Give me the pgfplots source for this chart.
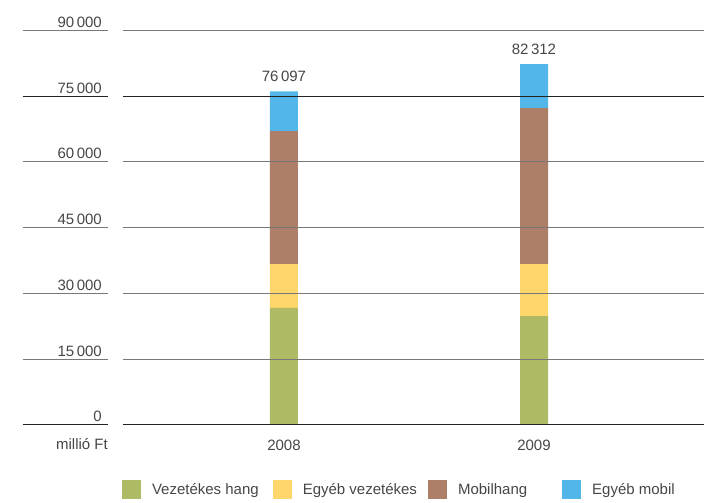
\documentclass[border=0pt]{standalone}
\usepackage{pgfplots}
\pgfplotsset{compat=1.18}
\usepackage{fontspec}
\setmainfont{Liberation Sans}
\usetikzlibrary{calc}
\definecolor{cgreen}{RGB}{175,187,100}
\definecolor{cyellow}{RGB}{254,214,107}
\definecolor{cbrown}{RGB}{173,126,104}
\definecolor{cblue}{RGB}{82,183,232}
\definecolor{textgray}{RGB}{70,70,70}
\definecolor{gridgray}{RGB}{120,120,120}
\definecolor{griddark}{RGB}{34,34,34}
\begin{document}
\begin{tikzpicture}[font=\fontsize{15}{18}\selectfont]
\begin{axis}[
  name=ax, anchor=south west, at={(0,0)},
  scale only axis, width=581pt, height=394.7pt,
  xmin=-0.644, xmax=1.68, ymin=0, ymax=90000,
  clip=false,
  axis line style={draw=none},
  major tick length=0pt,
  scaled y ticks=false,
  ybar stacked, bar width=28pt,
  xtick={0,1}, xticklabels={2008,2009},
  ytick={0,15000,30000,45000,60000,75000,90000},
  yticklabels={0,15\,000,30\,000,45\,000,60\,000,75\,000,90\,000},
  yticklabel style={anchor=base east, inner sep=0pt, xshift=-21pt, yshift=3pt, text=textgray},
  xticklabel style={anchor=base, inner sep=0pt, yshift=-26pt, text=textgray},
  legend columns=4,
  legend style={at={(axis description cs:-0.002,-0.139)}, anchor=north west, draw=none, fill=none, inner sep=0pt,
    text=textgray, font=\fontsize{15}{18}\selectfont,
    /tikz/every even column/.append style={column sep=12pt},
    /tikz/every odd column/.append style={column sep=9pt}},
  legend image code/.code={\fill[#1] (0pt,-9.5pt) rectangle (19pt,9.5pt);},
]
\pgfplotsinvokeforeach{15000,30000,45000,60000,90000}{
  \draw[gridgray, line width=1pt] (axis cs:-0.644,#1) -- (axis cs:1.68,#1);
  \draw[gridgray, line width=1pt] (axis cs:-1.044,#1) -- (axis cs:-0.704,#1);
}
\pgfplotsinvokeforeach{0,75000}{
  \draw[griddark, line width=1pt] (axis cs:-0.644,#1) -- (axis cs:1.68,#1);
  \draw[griddark, line width=1pt] (axis cs:-1.044,#1) -- (axis cs:-0.704,#1);
}
\node[anchor=base east, inner sep=0pt, text=textgray] at (axis cs:-0.704,0) [yshift=-25pt] {millió Ft};
\addplot+[fill=cgreen, draw=none] coordinates {(0,26700) (1,24850)};
\addlegendentry{Vezetékes hang}
\addplot+[fill=cyellow, draw=none] coordinates {(0,10000) (1,11850)};
\addlegendentry{Egyéb vezetékes\hspace*{-3pt}}
\addplot+[fill=cbrown, draw=none] coordinates {(0,30330) (1,35580)};
\addlegendentry{Mobilhang\rule{21pt}{0pt}}
\addplot+[fill=cblue, draw=none] coordinates {(0,9067) (1,10032)};
\addlegendentry{Egyéb mobil}
\end{axis}
\begin{axis}[
  anchor=south west, at={(ax.south west)},
  scale only axis, width=581pt, height=394.7pt,
  xmin=-0.644, xmax=1.68, ymin=0, ymax=90000,
  clip=false, hide axis,
]
\addplot[only marks, mark=none, point meta=explicit symbolic,
  nodes near coords,
  every node near coord/.append style={anchor=base, inner sep=0pt, yshift=10pt, text=textgray}]
  coordinates {(0,76097) [76\,097] (1,82312) [82\,312]};
\end{axis}
\pgfresetboundingbox
\path[use as bounding box] ($(ax.south west)+(-123pt,-78pt)$) rectangle ($(ax.south west)+(590pt,425pt)$);
\end{tikzpicture}
\end{document}
